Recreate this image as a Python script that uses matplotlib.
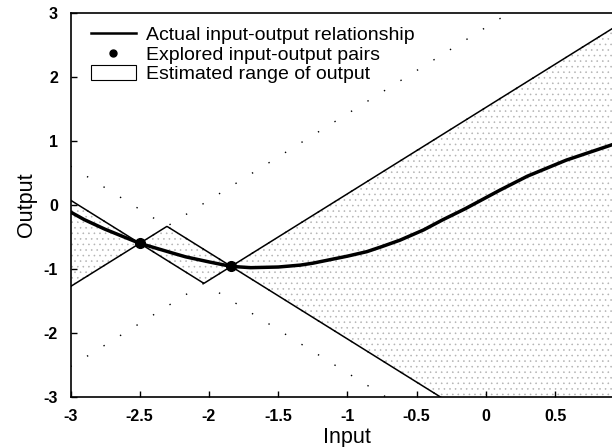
import numpy as np
import matplotlib.pyplot as plt
from matplotlib.lines import Line2D
from matplotlib.patches import Patch

# actual input-output relationship
input_x = [-3.0, -2.9, -2.75, -2.5, -2.25, -2.17, -2.0, -1.84, -1.7, -1.5,
           -1.34, -1.25, -1.0, -0.86, -0.75, -0.62, -0.45, -0.31, -0.15,
           0.1, 0.3, 0.58, 0.91, 1.0]
output_y = [-0.11, -0.23, -0.38, -0.60, -0.76, -0.81, -0.89, -0.96, -0.98, -0.97,
            -0.94, -0.91, -0.80, -0.73, -0.65, -0.55, -0.39, -0.23, -0.06,
            0.23, 0.45, 0.70, 0.94, 1.0]

# explored pairs and the slope bound used for the estimated range
explored_x = [-2.5, -1.84]
explored_y = [-0.60, -0.96]
slope_bound = 1.35

x_ticks = [-3, -2.5, -2, -1.5, -1, -0.5, 0, 0.5, 1]
x_tick_labels = ['-3', '-2.5', '-2', '-1.5', '-1', '-0.5', '0', '0.5', '1']
y_ticks = [-3, -2, -1, 0, 1, 2, 3]
y_tick_labels = ['-3', '-2', '-1', '0', '1', '2', '3']

plt.rcParams['font.family'] = ['Liberation Sans', 'DejaVu Sans']
plt.rcParams['axes.unicode_minus'] = False
plt.rcParams['hatch.linewidth'] = 0.4

fig = plt.figure(figsize=(6.12, 4.47), dpi=100)
ax = fig.add_axes([0.1152, 0.112, 0.905, 0.859])

xs = np.linspace(-3, 1, 801)
upper = np.min([y + slope_bound * np.abs(xs - x) for x, y in zip(explored_x, explored_y)], axis=0)
lower = np.max([y - slope_bound * np.abs(xs - x) for x, y in zip(explored_x, explored_y)], axis=0)

# stippled estimated range
ax.fill_between(xs, lower, upper, facecolor='white', edgecolor='#b2b2b2',
                hatch='...', linewidth=0)

# full cones of every explored pair, dotted
for x, y in zip(explored_x, explored_y):
    ax.plot(xs, y + slope_bound * np.abs(xs - x), color='black', lw=1.0,
            linestyle=(0, (1, 13)))
    ax.plot(xs, y - slope_bound * np.abs(xs - x), color='black', lw=1.0,
            linestyle=(0, (1, 13)))

# bounds of the estimated range
ax.plot(xs, upper, color='black', lw=1.1)
ax.plot(xs, lower, color='black', lw=1.1)

ax.plot(input_x, output_y, color='black', lw=2.5)
ax.plot(explored_x, explored_y, 'o', color='black', markersize=7)

ax.set_xlim(-3, 1)
ax.set_ylim(-3, 3)
ax.set_xticks(x_ticks)
ax.set_xticklabels(x_tick_labels)
ax.set_yticks(y_ticks)
ax.set_yticklabels(y_tick_labels)
ax.tick_params(direction='in', length=4, labelsize=11.5, width=1)
ax.tick_params(axis='x', pad=9)
ax.tick_params(axis='y', pad=9)
for lab in ax.get_xticklabels() + ax.get_yticklabels():
    lab.set_fontweight('bold')
for s in ax.spines.values():
    s.set_linewidth(1.2)
ax.set_xlabel('Input', fontsize=15.5, labelpad=2)
ax.set_ylabel('Output', fontsize=15.5, labelpad=5)

handles = [Line2D([0], [0], color='black', lw=1.8),
           Line2D([0], [0], marker='o', color='black', lw=0, markersize=5),
           Patch(facecolor='white', edgecolor='black', lw=0.8)]
labels = ['Actual input-output relationship', 'Explored input-output pairs',
          'Estimated range of output']
ax.legend(handles, labels, loc='upper left', frameon=False, fontsize=14,
          handlelength=2.3, handleheight=0.75, labelspacing=0.08,
          handletextpad=0.55, borderaxespad=0.0, borderpad=0.0,
          bbox_to_anchor=(0.037, 0.965))

fig.savefig('out.png', dpi=100)
